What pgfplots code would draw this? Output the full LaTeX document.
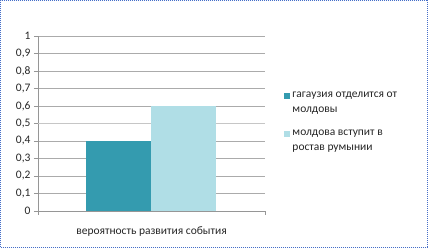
\documentclass[border=0pt]{standalone}
\usepackage{pgfplots}
\pgfplotsset{compat=1.18}
\usepackage{fontspec}
\setmainfont{Carlito}
\definecolor{barA}{RGB}{52,155,175}
\definecolor{barB}{RGB}{176,222,230}
\definecolor{axgray}{RGB}{150,150,150}
\definecolor{frameblue}{RGB}{70,110,200}
\begin{document}
\begin{tikzpicture}[x=1pt,y=1pt]
\useasboundingbox (0,0) rectangle (432,248);
\draw[frameblue, dash pattern=on 1pt off 1pt, line width=0.8pt] (0.5,0.5) rectangle (427.5,247.5);
\begin{axis}[
  at={(38pt,37pt)}, anchor=south west,
  scale only axis, width=227pt, height=175pt,
  xmin=-1, xmax=1, ymin=0, ymax=1,
  axis lines*=left,
  axis line style={axgray},
  ybar=0pt, bar width=65pt,
  xtick={-1,1}, xticklabels={,},
  major tick length=4pt,
  tick style={axgray},
  ytick={0,0.1,...,1.01},
  tick align=outside,
  ymajorgrids,
  major grid style={axgray!80, line width=0.5pt, dash pattern=on 0.5pt off 0.5pt},
  extra y ticks={0.5}, extra y tick labels={},
  extra y tick style={grid=major, major grid style={gray!45, line width=1.6pt, solid}, major tick length=0pt},
  /pgf/number format/.cd, use comma, fixed, precision=1, assume math mode=true,
  /pgfplots/.cd,
  ticklabel style={font=\fontsize{11.5}{13}\selectfont, text=black!85},
  xlabel={вероятность развития события},
  xlabel style={font=\fontsize{11.5}{13}\selectfont, text=black!85, at={(0.5,0)}, anchor=north, yshift=-12pt},
  legend style={at={(1.085,0.695)}, anchor=north west, draw=none, fill=none,
    font=\fontsize{11.5}{15}\selectfont, text=black!85,
    cells={anchor=west, align=left}, row sep=12pt, inner sep=0pt},
  legend image code/.code={\fill[#1] (0pt,4pt) rectangle (6pt,10pt);},
]
\addplot[fill=barA, draw=none] coordinates {(0,0.4)};
\addplot[fill=barB, draw=none] coordinates {(0,0.6)};
\legend{гагаузия отделится от\\молдовы, молдова вступит в\\ростав румынии}
\end{axis}
\end{tikzpicture}
\end{document}
